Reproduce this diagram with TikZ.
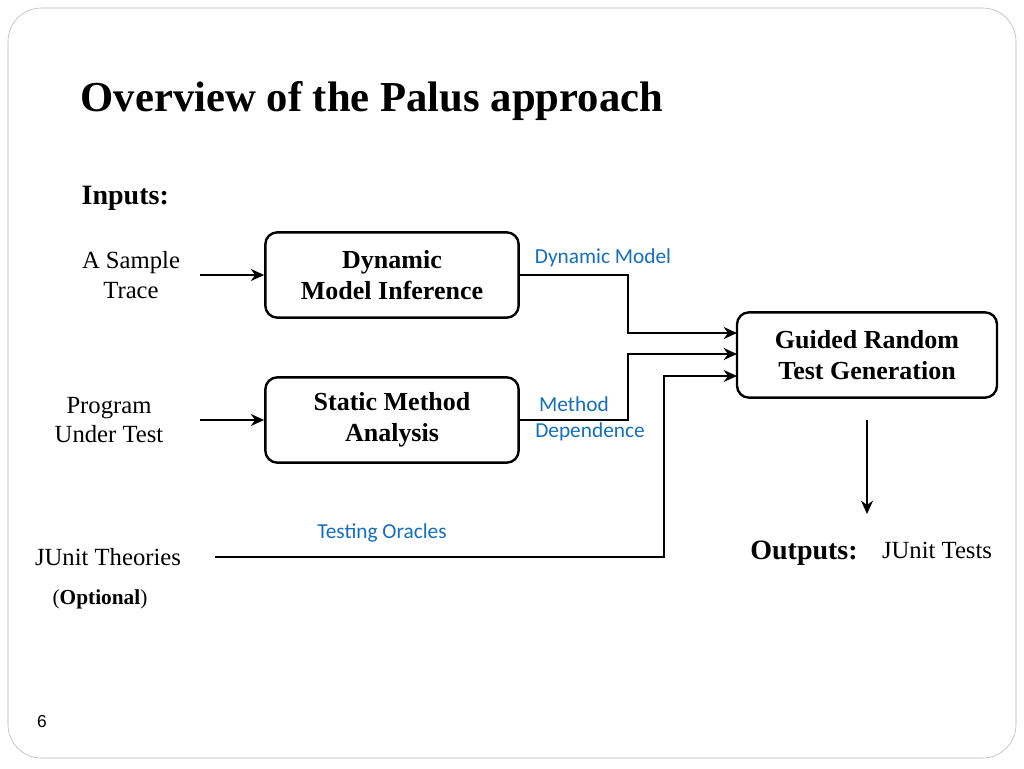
\documentclass[tikz,border=0pt]{standalone}
\usepackage{fontspec}
\setmainfont{Liberation Serif}
\newfontfamily\sansf{Liberation Sans}
\newfontfamily\calf{Carlito}
\usetikzlibrary{arrows.meta}
\definecolor{lblue}{RGB}{20,110,190}
\begin{document}
\begin{tikzpicture}[x=0.75pt,y=-0.75pt,
 box/.style={draw,line width=1.8pt,rounded corners=9pt,font=\fontsize{19.5}{23}\selectfont\bfseries,align=center},
 con/.style={line width=1.6pt,-{Stealth[length=10pt,width=9pt]}},
 lab/.style={text=lblue,font=\calf\fontsize{16}{18}\selectfont},
 plain/.style={font=\fontsize{18.5}{22}\selectfont,align=center}]
\useasboundingbox (0,0) rectangle (1024,768);
\draw[gray!60,rounded corners=25pt] (8,8) rectangle (1016,758);
\node[anchor=west,font=\fontsize{32}{36}\selectfont\bfseries] (title) at (76,101) {Overview of the Palus approach};
\node[anchor=west,font=\fontsize{21}{24}\selectfont\bfseries] (inp) at (77,198) {Inputs:};
\node[box,minimum width=190pt,minimum height=64pt] (dmi) at (392,275) {Dynamic\\Model Inference};
\node[box,minimum width=190pt,minimum height=64pt] (sma) at (392,420) {Static Method\\Analysis};
\node[box,minimum width=195pt,minimum height=64pt] (grt) at (867,355) {Guided Random\\Test Generation};
\node[plain] (trace) at (131,275) {A Sample\\Trace};
\node[plain] (put) at (109,420) {Program\\Under Test};
\node[plain] (jth) at (108,557) {JUnit Theories};
\node[font=\fontsize{16}{18}\selectfont] (opt) at (100,599) {(\textbf{Optional})};
\node[font=\fontsize{21}{24}\selectfont\bfseries] (out) at (804,553) {Outputs:};
\node[plain] (jt) at (937,550) {JUnit Tests};
\node[lab] at (603,258) {Dynamic Model};
\node[lab] at (574,404) {Method};
\node[lab] at (590,432) {Dependence};
\node[lab] at (382,533) {Testing Oracles};
\node[font=\sansf\fontsize{13}{15}\selectfont] (pg) at (42,722) {6};
\coordinate (a1) at (200,275); \coordinate (a2) at (200,420);
\coordinate (a3) at (215,557); \coordinate (d1) at (867,420); \coordinate (d2) at (867,514);
\coordinate (g1) at (737,333); \coordinate (g2) at (737,354); \coordinate (g3) at (737,376);
\draw[con] (a1) -- (dmi.west|-a1);
\draw[con] (a2) -- (sma.west|-a2);
\draw[con] (dmi.east) -- (628,275) -- (628,333) -- (g1);
\draw[con] (sma.east) -- (628,420) -- (628,354) -- (g2);
\draw[con] (a3) -- (664,557) -- (664,376) -- (g3);
\draw[con] (d1) -- (d2);
\end{tikzpicture}
\end{document}
